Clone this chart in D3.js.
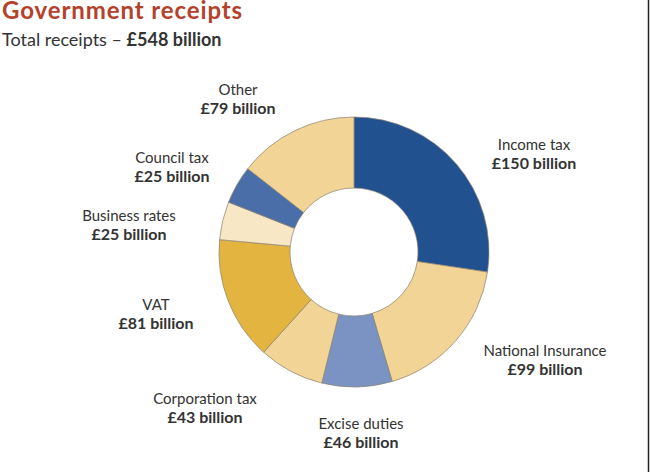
<!DOCTYPE html>
<html><head><meta charset="utf-8">
<script src="https://cdn.jsdelivr.net/npm/d3@7"></script>
<style>
body{margin:0;background:#fff;}
svg{display:block;font-family:Lato,"Noto Sans",sans-serif;}
</style></head>
<body><svg id="c" width="650" height="472"></svg>
<script>
const categories = ["Income tax","National Insurance","Excise duties","Corporation tax","VAT","Business rates","Council tax","Other"];
const values = [150, 99, 46, 43, 81, 25, 25, 79];
const valueLabels = ["£150 billion","£99 billion","£46 billion","£43 billion","£81 billion","£25 billion","£25 billion","£79 billion"];
const colors = ["#22518f","#f2d496","#7b93c2","#f2d496","#e3b540","#f8e7c4","#4a6fa8","#f2d496"];
const labelPos = [[534,150],[545,356],[361,429],[205,404],[156,310],[129,221],[172,163],[238,95]];
const title = "Government receipts";
const total = d3.sum(values);

const svg = d3.select("#c");
svg.append("text").attr("x",2).attr("y",19).attr("fill","#b5412a")
  .attr("font-size",24).attr("letter-spacing",0.9).attr("font-weight","bold").text(title);
const sub = svg.append("text").attr("x",2).attr("y",46).attr("fill","#333").attr("font-size",18);
sub.append("tspan").text("Total receipts – ");
sub.append("tspan").attr("font-weight","bold").text("£" + total + " billion");

svg.append("line").attr("x1",648.5).attr("x2",648.5).attr("y1",0).attr("y2",472)
  .attr("stroke","#222").attr("stroke-width",1.5);

const cx = 354, cy = 252;
const pie = d3.pie().sort(null).value(d=>d)(values);
const arc = d3.arc().innerRadius(64).outerRadius(135);
const g = svg.append("g").attr("transform",`translate(${cx},${cy})`);
g.selectAll("path").data(pie).join("path")
  .attr("d",arc).attr("fill",(d,i)=>colors[i])
  .attr("stroke","#8a8070").attr("stroke-width",0.7);

categories.forEach((c,i)=>{
  svg.append("text").attr("text-anchor","middle").attr("fill","#333")
    .attr("x",labelPos[i][0]).attr("y",labelPos[i][1]).attr("font-size",15).text(c);
  svg.append("text").attr("text-anchor","middle").attr("fill","#333")
    .attr("x",labelPos[i][0]).attr("y",labelPos[i][1]+19)
    .attr("font-size",16).attr("font-weight","bold").text(valueLabels[i]);
});
</script></body></html>
